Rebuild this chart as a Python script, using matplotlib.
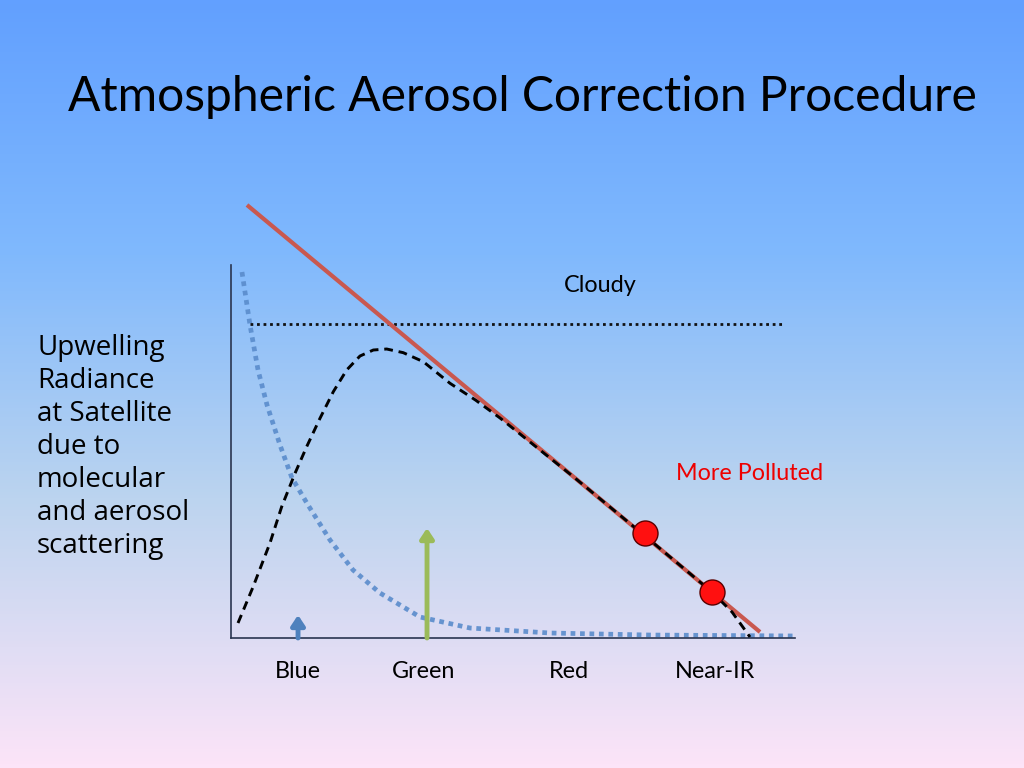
import numpy as np
import matplotlib
matplotlib.use("Agg")
import matplotlib.pyplot as plt
from matplotlib.colors import LinearSegmentedColormap

# ---- data (arbitrary units: x = wavelength position, y = radiance) ----
red_line_x = [2.81, 92.97]
red_line_y = [98.86, 1.37]

cloudy_x = [3.34, 97.36]
cloudy_y = [71.69, 71.69]

aerosol_x = [1.23, 3.87, 6.85, 8.91, 11.25, 13.30, 15.64, 17.98, 20.33, 22.67,
             25.01, 27.36, 30.28, 33.80, 38.49, 43.0, 47.28, 60.0, 72.76,
             84.53, 88.05, 91.21]
aerosol_y = [3.42, 11.64, 21.69, 29.98, 37.60, 43.68, 50.16, 56.23, 61.19, 64.38,
             65.75, 65.98, 65.14, 63.08, 58.15, 54.3, 50.23, 37.0, 23.29,
             10.50, 5.94, 0.23]

rayleigh_x = [1.93, 3.34, 4.75, 6.33, 8.61, 10.72, 13.53, 17.40, 21.44, 26.19,
              33.22, 42.00, 56.06, 73.64, 99.12]
rayleigh_y = [83.56, 71.46, 61.19, 53.20, 44.06, 36.53, 30.37, 22.37, 15.53, 10.27,
              4.79, 2.28, 1.14, 0.68, 0.46]

polluted_x = [72.76, 84.53]
polluted_y = [23.97, 10.50]

band_labels = ["Blue", "Green", "Red", "Near-IR"]
band_x = [11.78, 33.9, 59.4, 85.1]

blue_arrow_x, blue_arrow_top = 11.78, 5.25
green_arrow_x, green_arrow_top = 34.45, 25.1

left_label = "Upwelling\nRadiance\nat Satellite\ndue to\nmolecular\nand aerosol\nscattering"
title = "Atmospheric Aerosol Correction Procedure"

# ---- figure ----
fig = plt.figure(figsize=(10.24, 7.68), dpi=100)

# background gradient
bg = fig.add_axes([0, 0, 1, 1])
cmap = LinearSegmentedColormap.from_list(
    "bg", [(0.0, "#62a0ff"), (0.33, "#80b9fd"), (0.65, "#bcd4ef"), (1.0, "#fce4f8")])
grad = np.linspace(0, 1, 256).reshape(-1, 1)
bg.imshow(grad, aspect="auto", cmap=cmap, extent=[0, 1, 0, 1], origin="upper")
bg.set_axis_off()

ax = fig.add_axes([231 / 1024, 130 / 768, 569 / 1024, 438 / 768])
ax.set_xlim(0, 100)
ax.set_ylim(0, 100)
ax.patch.set_alpha(0)
for s in ["top", "right"]:
    ax.spines[s].set_visible(False)
ax.spines["left"].set_bounds(0, 85.16)
ax.spines["bottom"].set_bounds(0, 99.1)
for s in ["left", "bottom"]:
    ax.spines[s].set_color("#2a3550")
    ax.spines[s].set_linewidth(1.2)
ax.set_xticks([])
ax.set_yticks([])

# rayleigh (blue dotted)
ax.plot(rayleigh_x, rayleigh_y, color="#5a8ccc", lw=3.4, linestyle=(0, (1, 1)),
        dash_capstyle="butt", alpha=0.9, zorder=2)
# cloudy dotted line
ax.plot(cloudy_x, cloudy_y, color="#111111", lw=2.0, linestyle=(0, (1, 1.35)), zorder=2)
# red line
ax.plot(red_line_x, red_line_y, color="#c9584f", lw=3.0, solid_capstyle="butt", zorder=3)
# aerosol dashed curve
ax.plot(aerosol_x, aerosol_y, color="black", lw=2.1, linestyle=(0, (3.0, 2.0)), zorder=4)
# polluted points
ax.plot(polluted_x, polluted_y, "o", ms=18, mfc="#ff1010", mec="#5a0000", mew=1.0, zorder=5)

# arrows
ax.annotate("", xy=(blue_arrow_x, blue_arrow_top), xytext=(blue_arrow_x, 0),
            arrowprops=dict(arrowstyle="-|>,head_length=0.6,head_width=0.4",
                            color="#4f81bd", lw=3.5, shrinkA=0, shrinkB=0), zorder=3)
ax.annotate("", xy=(green_arrow_x, green_arrow_top), xytext=(green_arrow_x, 0),
            arrowprops=dict(arrowstyle="-|>,head_length=0.6,head_width=0.4",
                            color="#9bbb59", lw=3.5, shrinkA=0, shrinkB=0), zorder=3)

fnt = "Lato"
for lab, x in zip(band_labels, band_x):
    ax.text(x, -7.6, lab, ha="center", va="center", fontsize=16.8, family=fnt,
            color="black", clip_on=False)

ax.text(64.85, 80.37, "Cloudy", ha="center", va="center", fontsize=16.8, family=fnt)
ax.text(91.2, 37.67, "More Polluted", ha="center", va="center", fontsize=16.8,
        family=fnt, color="#ee0000")

fig.text(37 / 1024, 1 - 334 / 768, left_label, ha="left", va="top", fontsize=20,
         family="Open Sans", linespacing=1.24)

fig.text(522 / 1024, 1 - 97 / 768, title, ha="center", va="center", fontsize=34.6,
         family=fnt)

fig.savefig("out.png", dpi=100)
